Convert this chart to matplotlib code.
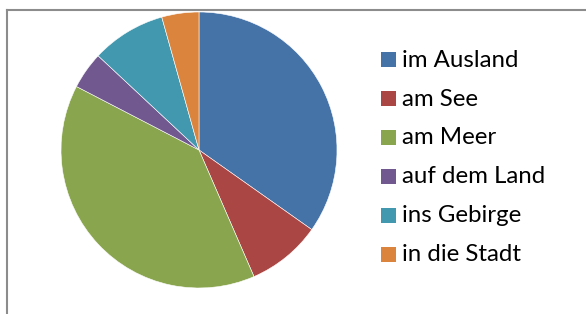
import matplotlib
matplotlib.use("Agg")
import matplotlib.pyplot as plt
from matplotlib.lines import Line2D
from matplotlib.patches import Rectangle

labels = ["im Ausland", "am See", "am Meer", "auf dem Land", "ins Gebirge", "in die Stadt"]
values = [8, 2, 9, 1, 2, 1]
colors = ["#4572A7", "#AA4643", "#89A54E", "#71588F", "#4198AF", "#DB843D"]

W, H = 586, 314
fig = plt.figure(figsize=(W / 100, H / 100), dpi=100)
fig.patch.set_facecolor("white")

def fx(px):
    return px / W

def fy(py):
    return 1 - py / H

# outer frame (top and left edges visible)
fig.add_artist(Line2D([fx(7), fx(7)], [0, fy(9.5)], color="#8c8c8c", lw=1.5, transform=fig.transFigure))
fig.add_artist(Line2D([fx(7), 1], [fy(9.5), fy(9.5)], color="#8c8c8c", lw=1.5, transform=fig.transFigure))

cx, cy, r = 199, 150, 138
ax = fig.add_axes([(cx - r) / W, (H - cy - r) / H, 2 * r / W, 2 * r / H])
wedges, _ = ax.pie(values, colors=colors, startangle=90, counterclock=False,
                   radius=1, wedgeprops=dict(edgecolor="white", linewidth=0.4))
ax.set_xlim(-1, 1)
ax.set_ylim(-1, 1)
ax.set_aspect("equal")
ax.axis("off")

# legend (manual placement)
x_box, box = 381, 15
y0, dy = 59.5, 38.9
for i, (lab, w) in enumerate(zip(labels, wedges)):
    yc = y0 + i * dy
    fig.add_artist(Rectangle((fx(x_box), fy(yc + box / 2)), box / W, box / H,
                             facecolor=w.get_facecolor(), edgecolor="none",
                             transform=fig.transFigure))
    fig.text(fx(402), fy(yc + 7.2), lab, family="Lato", size=17.3,
             ha="left", va="baseline", color="#000000")

fig.savefig("out.png", dpi=100, facecolor="white")
